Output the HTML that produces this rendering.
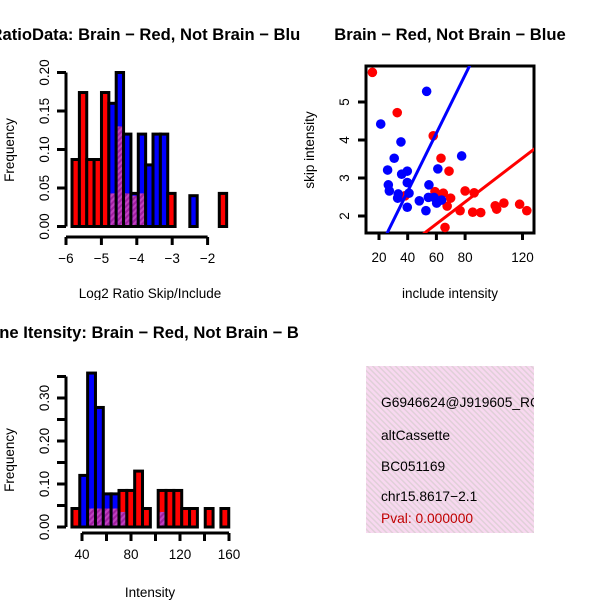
<!DOCTYPE html>
<html><head><meta charset="utf-8"><style>
html,body{margin:0;padding:0;background:#fff;}
svg{display:block;font-family:"Liberation Sans",sans-serif;}
</style></head><body>
<svg id="c" width="600" height="600" viewBox="0 0 600 600">
<defs>
<pattern id="ph" width="4" height="4" patternUnits="userSpaceOnUse" patternTransform="rotate(45)">
<rect width="4" height="4" fill="#a020a0"/><rect width="2" height="4" fill="#c040c0"/></pattern>
<pattern id="pk" width="4" height="4" patternUnits="userSpaceOnUse" patternTransform="rotate(-45)">
<rect width="4" height="4" fill="#f8d8f0"/><rect width="1.5" height="4" fill="#e0d0d8"/></pattern>
<clipPath id="cp1"><rect x="0" y="0" width="300" height="300"/></clipPath>
<clipPath id="cp3"><rect x="0" y="300" width="300" height="300"/></clipPath>
<clipPath id="cpb"><rect x="366" y="66" width="168" height="167"/></clipPath>
<clipPath id="cpi"><rect x="366" y="366" width="168" height="167"/></clipPath>
</defs>
<g id="p1" clip-path="url(#cp1)"></g>
<g id="p2"></g>
<g id="p3" clip-path="url(#cp3)"></g>
<g id="p4">
<rect x="366" y="366" width="168" height="167" fill="url(#pk)"/>
<g clip-path="url(#cpi)" font-size="13.8">
<text x="381" y="407">G6946624@J919605_RC</text>
<text x="381" y="440">altCassette</text>
<text x="381" y="471">BC051169</text>
<text x="381" y="501">chr15.8617−2.1</text>
<text x="381" y="523" fill="#c00000">Pval: 0.000000</text>
</g></g>
</svg>
<script>
// Histogram 1 (log2 ratio)
const h1Start = -5.83, h1Width = 0.208;
const h1Red  = [0.087,0.174,0.087,0.087,0.174,0.043,0.13,0.043,0.04,0.043,0,0,0,0.043,0,0,0,0,0,0,0.043];
const h1Blue = [0,0,0,0,0,0.16,0.2,0.12,0.043,0.12,0.08,0.12,0.12,0,0,0,0.04,0,0,0,0];
const h1XTicks = [-6,-5,-4,-3,-2];
const h1YTicks = [0,0.05,0.1,0.15,0.2];
// Scatter
const redX = [15.4,32.7,57.8,63.2,68.8,38.1,59.0,64.8,69.9,67.5,66,76.5,80,86.3,85.3,90.9,101,102,107,118,123,62.8];
const redY = [5.78,4.72,4.11,3.52,3.18,2.53,2.64,2.60,2.47,2.26,1.70,2.14,2.66,2.61,2.10,2.09,2.27,2.18,2.34,2.31,2.14,2.49];
const blueX = [53.2,21.2,35.3,30.6,26,39.7,35.8,39.7,26.5,27.2,33.4,33,40.9,39.7,48.1,52.7,54.8,54.4,61.0,77.6,58.3,60.2,63.6];
const blueY = [5.28,4.42,3.95,3.52,3.21,3.18,3.10,2.88,2.82,2.66,2.58,2.47,2.60,2.23,2.40,2.14,2.82,2.49,3.24,3.58,2.49,2.34,2.42];
const blueFit = [-0.416,0.0766];
const redFit = [0.057,0.0289];
const scXTicks = [20,40,60,80,120];
const scYTicks = [2,3,4,5];
// Histogram 2 (intensity)
const h2Start = 31.8, h2Width = 6.4;
const h2Red  = [0.043,0,0.043,0.043,0.043,0.043,0.085,0.085,0.13,0.043,0,0.085,0.085,0.085,0.043,0.043,0,0.043,0,0.043];
const h2Blue = [0,0.12,0.358,0.278,0.077,0.077,0.035,0,0,0,0,0.035,0,0,0,0,0,0,0,0];
const h2XTicks = [40,60,80,100,120,140,160];
const h2XLabels = ["40","","80","","120","","160"];
const h2YTicks = [0,0.05,0.1,0.15,0.2,0.25,0.3,0.35];
const h2YLabels = ["0.00","","0.10","","0.20","","0.30",""];

const FS=13.5;
const NS="http://www.w3.org/2000/svg";
function mk(p,tag,a){const e=document.createElementNS(NS,tag);for(const k in a)e.setAttribute(k,a[k]);p.appendChild(e);return e;}
function txt(p,x,y,s,o){const e=mk(p,'text',Object.assign({x:x,y:y,'text-anchor':'middle','font-size':FS},o||{}));e.textContent=s;return e;}

function hist(g,start,w,red,blue,xs,ys,xt,xl,yt,yl,axY,axX){
  for(let i=0;i<red.length;i++){
    const r=red[i],b=blue[i];const x0=xs(start+i*w),x1=xs(start+(i+1)*w);
    const hi=Math.max(r,b), lo=Math.min(r,b);
    if(hi<=0) continue;
    const col=(b>r)?'#0000ff':'#ff0000';
    const e=mk(g,'rect',{x:x0,y:ys(hi),width:x1-x0,height:ys(0)-ys(hi),fill:col,stroke:'#000','stroke-width':3});
    
    
    if(lo>0){const p=mk(g,'rect',{x:x0+1.5,y:ys(lo),width:x1-x0-3,height:ys(0)-ys(lo)-1.5,fill:'url(#ph)'});
      
      }
  }
  axes(g,xs,ys,xt,xl,yt,yl,axY,axX);
}
function axes(g,xs,ys,xt,xl,yt,yl,axY,axX){
  const xa=mk(g,'g',{});
  mk(xa,'line',{x1:xs(xt[0]),x2:xs(xt[xt.length-1]),y1:axY,y2:axY,stroke:'#000','stroke-width':3});
  xt.forEach((v,i)=>{mk(xa,'line',{x1:xs(v),x2:xs(v),y1:axY,y2:axY+8,stroke:'#000','stroke-width':3});
    if(xl[i]!=='') txt(xa,xs(v),axY+26,xl[i]);});
  const ya=mk(g,'g',{});
  mk(ya,'line',{x1:axX,x2:axX,y1:ys(yt[0]),y2:ys(yt[yt.length-1]),stroke:'#000','stroke-width':3});
  yt.forEach((v,i)=>{mk(ya,'line',{x1:axX,x2:axX-9,y1:ys(v),y2:ys(v),stroke:'#000','stroke-width':3});
    if(yl[i]!==''){const t=txt(ya,axX-21,ys(v),yl[i]);t.setAttribute('transform',`rotate(-90 ${axX-21} ${ys(v)})`);t.setAttribute('dy','4');}});
}
function ylabel(g,x,y,s,n){const t=txt(g,x,y,s);t.setAttribute('transform',`rotate(-90 ${x} ${y})`);}
function label(g,x,y,s,n,o){const t=txt(g,x,y,s,o);}

// Panel 1
const g1=document.getElementById('p1');
const x1=v=>66+(v+6)*35.4, y1=v=>226.5-v*770;
hist(g1,h1Start,h1Width,h1Red,h1Blue,x1,y1,h1XTicks,h1XTicks.map(String).map(s=>s.replace('-','−')),h1YTicks,h1YTicks.map(v=>v.toFixed(2)),237,66);
label(g1,150,40,'RatioData: Brain − Red, Not Brain − Blue','panel1-title',{'font-weight':'bold','font-size':16.6});
label(g1,150,298,'Log2 Ratio Skip/Include','x-axis-title');
ylabel(g1,14,150,'Frequency','y-axis-title');

// Panel 2 scatter
const g2=document.getElementById('p2');
const x2=v=>379+(v-20)*1.435, y2=v=>216-(v-2)*38;
mk(g2,'rect',{x:366,y:66,width:168,height:167,fill:'none',stroke:'#000','stroke-width':3});
const pts=mk(g2,'g',{'clip-path':'url(#cpb)'});
redX.forEach((v,i)=>{const c=mk(pts,'circle',{cx:x2(v),cy:y2(redY[i]),r:4.8,fill:'#ff0000'});
  
  });
blueX.forEach((v,i)=>{const c=mk(pts,'circle',{cx:x2(v),cy:y2(blueY[i]),r:4.8,fill:'#0000ff'});
  
  });
[[blueFit,'#0000ff','blue-fit-line'],[redFit,'#ff0000','red-fit-line']].forEach(([f,c,n])=>{
  const l=mk(pts,'line',{x1:x2(0),y1:y2(f[0]),x2:x2(140),y2:y2(f[0]+f[1]*140),stroke:c,'stroke-width':3});
  
  });
(function(){const xa=mk(g2,'g',{});
 scXTicks.forEach(v=>{mk(xa,'line',{x1:x2(v),x2:x2(v),y1:233,y2:240,stroke:'#000','stroke-width':3});txt(xa,x2(v),262,String(v));});
 const ya=mk(g2,'g',{});
 scYTicks.forEach(v=>{mk(ya,'line',{x1:366,x2:358,y1:y2(v),y2:y2(v),stroke:'#000','stroke-width':3});
  const t=txt(ya,345,y2(v),String(v));t.setAttribute('transform',`rotate(-90 345 ${y2(v)})`);t.setAttribute('dy','4');});})();
label(g2,450,40,'Brain − Red, Not Brain − Blue','panel2-title',{'font-weight':'bold','font-size':16.6});
label(g2,450,298,'include intensity','x-axis-title');
ylabel(g2,314,150,'skip intensity','y-axis-title');

// Panel 3
const g3=document.getElementById('p3');
const x3=v=>82+(v-40)*1.225, y3=v=>527-v*430;
hist(g3,h2Start,h2Width,h2Red,h2Blue,x3,y3,h2XTicks,h2XLabels,h2YTicks,h2YLabels,533,66);
label(g3,150,338,'Gene Itensity: Brain − Red, Not Brain − Blue','panel3-title',{'font-weight':'bold','font-size':16.6});
label(g3,150,597,'Intensity','x-axis-title');
ylabel(g3,14,460,'Frequency','y-axis-title');
</script>
</body></html>
